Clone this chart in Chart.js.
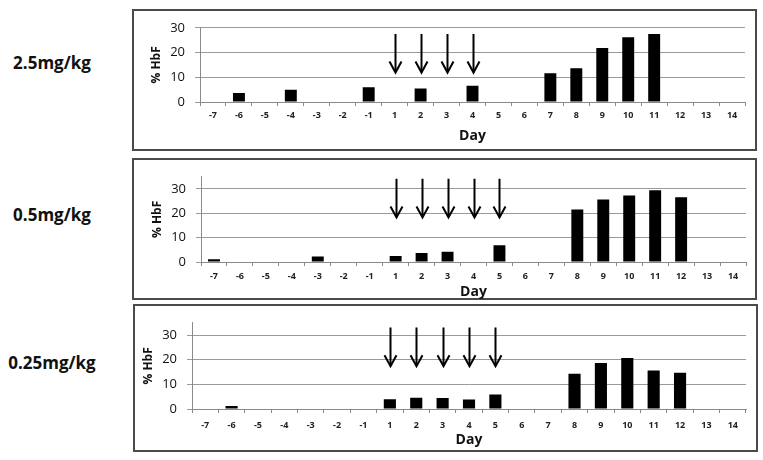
<!DOCTYPE html>
<html>
<head>
<meta charset="utf-8">
<script src="https://cdn.jsdelivr.net/npm/chart.js@4.4.1/dist/chart.umd.min.js"></script>
<style>
  html,body{margin:0;padding:0;background:#fff;}
  #wrap{position:relative;width:763px;height:460px;overflow:hidden;background:#fff;}
  .box{position:absolute;border:2px solid #4a4a4a;box-sizing:border-box;}
  .cv{position:absolute;}
  .dose{position:absolute;left:0;width:104px;text-align:center;font-family:"Open Sans",sans-serif;font-weight:700;font-size:17px;line-height:20px;color:#111;}
</style>
</head>
<body>
<div id="wrap">
  <div class="box" style="left:132px;top:9px;width:625px;height:142px;"></div>
  <div class="box" style="left:132px;top:158px;width:625px;height:142px;"></div>
  <div class="box" style="left:133px;top:304px;width:625px;height:148px;"></div>
  <div class="dose" style="top:53px;">2.5mg/kg</div>
  <div class="dose" style="top:205px;">0.5mg/kg</div>
  <div class="dose" style="top:353px;">0.25mg/kg</div>
  <div class="cv" style="left:133px;top:10px;width:623px;height:140px;"><canvas id="c1"></canvas></div>
  <div class="cv" style="left:133px;top:159px;width:623px;height:140px;"><canvas id="c2"></canvas></div>
  <div class="cv" style="left:134px;top:305px;width:623px;height:146px;"><canvas id="c3"></canvas></div>
</div>
<script>
// ---- data ----
const days = ['-7','-6','-5','-4','-3','-2','-1','1','2','3','4','5','6','7','8','9','10','11','12','13','14'];
const doseLabels = ['2.5mg/kg','0.5mg/kg','0.25mg/kg'];
const yTicks = [0, 10, 20, 30];
//                -7    -6    -5    -4    -3    -2    -1    1     2     3     4     5     6     7     8     9     10    11    12    13    14
const hbf_2_5  = [null, 3.6,  null, 5.0,  null, null, 6.0,  null, 5.5,  null, 6.6,  null, null, 11.6, 13.6, 21.8, 26.2, 27.5, null, null, null];
const hbf_0_5  = [1.1,  null, null, null, 2.3,  null, null, 2.5,  3.7,  4.2,  null, 6.9,  null, null, 21.6, 25.7, 27.3, 29.5, 26.6, null, null];
const hbf_0_25 = [null, 1.25, null, null, null, null, null, 4.0,  4.6,  4.5,  3.9,  5.9,  null, null, 14.3, 18.7, 20.7, 15.6, 14.7, null, null];
const arrowDays_2_5  = ['1','2','3','4'];
const arrowDays_0_5  = ['1','2','3','4','5'];
const arrowDays_0_25 = ['1','2','3','4','5'];
const arrowFrom = [27.5, 34.2, 33.1];
const arrowTo   = [11.9, 18.3, 17.4];
const yMax = [30, 35, 35];

const FONT = '"Open Sans", sans-serif';

const arrowPlugin = {
  id: 'doseArrows',
  afterDatasetsDraw(chart, args, opts) {
    const {ctx, scales: {x, y}} = chart;
    ctx.save();
    ctx.strokeStyle = '#000';
    ctx.lineWidth = 2;
    ctx.lineCap = 'butt';
    opts.days.forEach(d => {
      const px = Math.round(x.getPixelForValue(days.indexOf(d))) + 0.5;
      const y0 = y.getPixelForValue(opts.from);
      const y1 = y.getPixelForValue(opts.to);
      ctx.beginPath();
      ctx.moveTo(px, y0);
      ctx.lineTo(px, y1 - 1);
      ctx.stroke();
      ctx.beginPath();
      ctx.moveTo(px - 6, y1 - 11);
      ctx.lineTo(px, y1);
      ctx.lineTo(px + 6, y1 - 11);
      ctx.stroke();
    });
    ctx.restore();
  }
};

function makeChart(id, values, arrowDays, i, cfg) {
  new Chart(document.getElementById(id), {
    type: 'bar',
    data: {
      labels: days,
      datasets: [{
        label: '% HbF ' + doseLabels[i],
        data: values,
        backgroundColor: '#000',
        borderWidth: 0,
        barPercentage: 0.46,
        categoryPercentage: 1.0
      }]
    },
    options: {
      responsive: true,
      maintainAspectRatio: false,
      animation: false,
      layout: {padding: {left: 0, right: cfg.padR, top: cfg.padT, bottom: 0}},
      plugins: {
        legend: {display: false},
        tooltip: {enabled: false},
        doseArrows: {days: arrowDays, from: arrowFrom[i], to: arrowTo[i]}
      },
      scales: {
        x: {
          offset: true,
          grid: {offset: true, drawOnChartArea: false, drawTicks: true, tickLength: 4, color: '#888', lineWidth: 1},
          border: {display: true, color: '#8a8a8a', width: 1},
          ticks: {color: '#222', font: {family: FONT, size: 9, weight: '700'}, padding: cfg.xPad, maxRotation: 0, autoSkip: false},
          title: {display: true, text: 'Day', color: '#111', font: {family: FONT, size: 14, weight: '700', lineHeight: 1}, padding: {top: 0, bottom: cfg.dayPad}},
          afterFit: s => { s.height = cfg.xH; }
        },
        y: {
          min: 0,
          max: yMax[i],
          afterBuildTicks: s => { s.ticks = yTicks.map(v => ({value: v})); },
          ticks: {stepSize: 10, color: '#111', font: {family: FONT, size: 13, weight: '500'}, padding: 10},
          grid: {color: '#9a9a9a', lineWidth: 1, drawTicks: true, tickLength: 5},
          border: {display: true, color: '#8a8a8a', width: 1},
          title: {display: true, text: '% HbF', color: '#111', font: {family: FONT, size: 12, weight: '700', lineHeight: 1}, padding: {top: cfg.hbfPad, bottom: 0}},
          afterFit: s => { s.width = cfg.yW; }
        }
      }
    },
    plugins: [arrowPlugin]
  });
}

makeChart('c1', hbf_2_5, arrowDays_2_5, 0, {padR: 11, padT: 12, xH: 48, yW: 67, xPad: 4, dayPad: 6.5, hbfPad: 18});
makeChart('c2', hbf_0_5, arrowDays_0_5, 1, {padR: 10, padT: 13, xH: 37, yW: 68, xPad: 5, dayPad: 0, hbfPad: 19});
makeChart('c3', hbf_0_25, arrowDays_0_25, 2, {padR: 11, padT: 11, xH: 42, yW: 58, xPad: 7, dayPad: 3.5, hbfPad: 9});
</script>
</body>
</html>
